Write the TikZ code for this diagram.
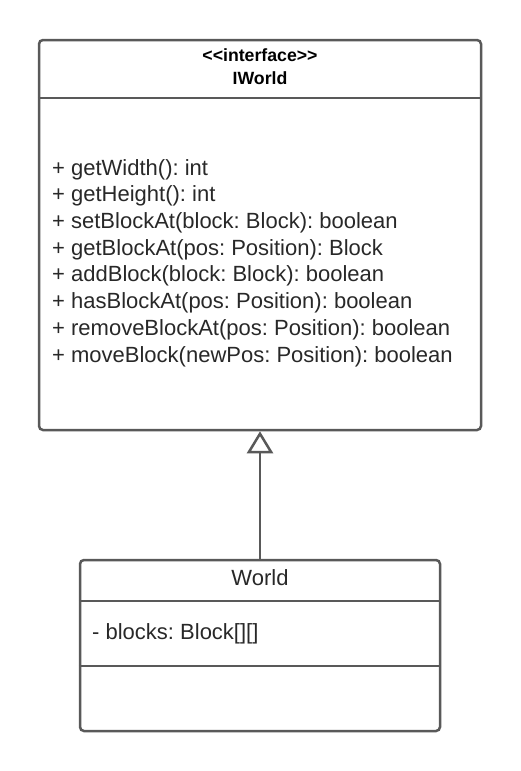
\documentclass[tikz,border=0pt]{standalone}
\usepackage{fontspec}
\setmainfont{Liberation Sans}
\usetikzlibrary{positioning,arrows.meta}
\definecolor{umllinie}{RGB}{89,89,89}
\definecolor{umltext}{RGB}{40,40,40}
\frenchspacing

\begin{document}
\begin{tikzpicture}[
                x=1pt,
                y=1pt,
                klasse/.style={
                    rectangle,
                    draw=umllinie,
                    line width=2.5pt,
                    rounded corners=4pt,
                    inner sep=0pt
                },
                titel/.style={
                    inner sep=0pt,
                    text=black,
                    font=\bfseries\fontsize{17.7}{23}\selectfont
                },
                eintrag/.style={
                    inner sep=0pt,
                    text=umltext,
                    font=\fontsize{22}{26.7}\selectfont
                },
                line/.style={
                    draw=umllinie,
                    line width=2.5pt
                },
                erbt/.style={
                    draw=umllinie,
                    line width=2.5pt,
                    -{Triangle[open, length=22pt, width=26pt]}
                }]

                \useasboundingbox (0,0) rectangle (520,-771);

                \node [klasse, minimum width=442pt, minimum height=390pt] (iworld) at (260,-235) {};
                \node [klasse, minimum width=360pt, minimum height=171pt] (world) at (260,-645.5) {};

                \node [titel] (stereotyp) at (260,-55) {<\kern0pt<interface>\kern0pt>};
                \node [titel] (iworld_name) at (260,-78) {IWorld};

                \node [eintrag, align=left, anchor=north west] (methoden) at (52,-159) {+ getWidth(): int\\
                    + getHeight(): int\\
                    + setBlockAt(block: Block): boolean\\
                    + getBlockAt(pos: Position): Block\\
                    + addBlock(block: Block): boolean\\
                    + hasBlockAt(pos: Position): boolean\\
                    + removeBlockAt(pos: Position): boolean\\
                    + moveBlock(newPos: Position): boolean};

                \node [eintrag] (world_name) at (260,-578) {World};
                \node [eintrag, anchor=base west] (bloecke) at (92,-639.6) {- blocks: Block[][]};

                \draw [line] ([yshift=-59pt]iworld.north west) -- ([yshift=-59pt]iworld.north east);
                \draw [line] ([yshift=-42pt]world.north west) -- ([yshift=-42pt]world.north east);
                \draw [line] ([yshift=-107pt]world.north west) -- ([yshift=-107pt]world.north east);

                \draw [erbt] (world) -- (iworld);

            \end{tikzpicture}
\end{document}
